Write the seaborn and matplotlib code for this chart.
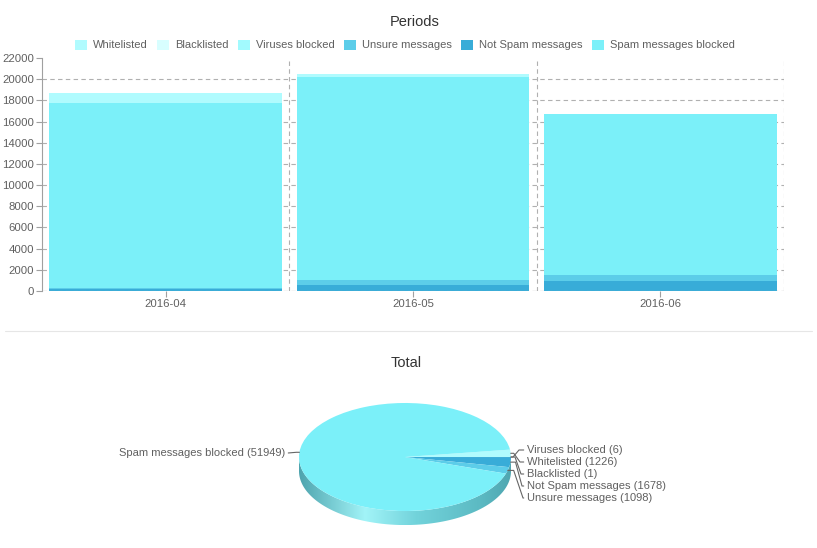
import numpy as np
import pandas as pd
import matplotlib
matplotlib.use('Agg')
import matplotlib.pyplot as plt
from matplotlib.patches import Patch, Polygon
from matplotlib.lines import Line2D
from matplotlib.colors import LinearSegmentedColormap
import seaborn as sns

sns.set_style('white')
plt.rcParams['font.family'] = ['Liberation Sans', 'DejaVu Sans']

# ---- data ----
months = ['2016-04', '2016-05', '2016-06']
whitelisted = [940, 280, 6]
blacklisted = [0, 1, 0]
viruses = [2, 3, 1]
unsure = [150, 420, 528]
not_spam = [155, 573, 950]
spam = [17480, 19220, 15249]

legend_names = ['Whitelisted', 'Blacklisted', 'Viruses blocked', 'Unsure messages',
                'Not Spam messages', 'Spam messages blocked']
total_names = ['Whitelisted', 'Blacklisted', 'Viruses blocked', 'Not Spam messages',
               'Unsure messages', 'Spam messages blocked']
total_values = [1226, 1, 6, 1678, 1098, 51949]

colors = {'Whitelisted': '#b0fbfe', 'Blacklisted': '#d8feff', 'Viruses blocked': '#a2fafe',
          'Unsure messages': '#5ccde9', 'Not Spam messages': '#38acd8',
          'Spam messages blocked': '#7bf0f9'}

TXT = '#606060'
W, H = 817, 548
fig = plt.figure(figsize=(W / 100, H / 100), dpi=100)

# ---- Periods: stacked bars ----
ax = fig.add_axes([42 / W, 1 - 291 / H, 742 / W, 233 / H])
stack = [('Not Spam messages', not_spam), ('Unsure messages', unsure),
         ('Spam messages blocked', spam), ('Viruses blocked', viruses),
         ('Blacklisted', blacklisted), ('Whitelisted', whitelisted)]
bottom = np.zeros(len(months))
for name, vals in stack:
    sns.barplot(x=months, y=vals, bottom=bottom.copy(), color=colors[name], saturation=1,
                width=0.94, errorbar=None, ax=ax, zorder=2, linewidth=0)
    bottom += np.array(vals, dtype=float)

ax.set_xlim(-0.5, 2.5)
ax.set_ylim(0, 22000)
ax.set_yticks(np.arange(0, 22001, 2000))
ax.set_xticks([0.5, 1.5, 2.5], minor=True)
ax.set_xlabel('')
ax.set_ylabel('')
grid_kw = dict(color='#b0b0b0', linestyle=(0, (4, 3)), linewidth=0.8)
ax.yaxis.grid(True, **grid_kw)
ax.xaxis.grid(True, which='minor', **grid_kw)
ax.set_axisbelow(True)
ax.get_ygridlines()[-1].set_visible(False)
for s in ['top', 'right', 'bottom']:
    ax.spines[s].set_visible(False)
ax.spines['left'].set_color('#a0a0a0')
ax.spines['left'].set_linewidth(0.8)
ax.tick_params(axis='both', which='major', labelsize=8.2, colors='#a0a0a0',
               labelcolor=TXT, length=4, width=0.8, left=True, bottom=True)
ax.tick_params(axis='y', pad=1.5)
ax.tick_params(axis='x', pad=2)
ax.tick_params(axis='x', which='minor', length=0)
ax.axhline(0, zorder=3, **grid_kw)

fig.text(415 / W, 1 - 22 / H, 'Periods', ha='center', va='center', fontsize=10.5, color='#333333')
handles = [Patch(facecolor=colors[n], edgecolor='none', label=n) for n in legend_names]
fig.legend(handles=handles, loc='center', bbox_to_anchor=(405 / W, 1 - 45 / H), ncol=6,
           frameon=False, fontsize=8.0, labelcolor=TXT, handlelength=1.05, handleheight=1.05,
           handletextpad=0.55, columnspacing=0.85)

# separator
fig.add_artist(Line2D([5 / W, 812 / W], [1 - 331 / H, 1 - 331 / H], color='#e6e6e6', linewidth=0.8))

# ---- Total: 3D-looking pie ----
fig.text(406 / W, 1 - 363 / H, 'Total', ha='center', va='center', fontsize=10.5, color='#333333')
pax = fig.add_axes([193 / W, 1 - 535 / H, 424 / W, 140 / H])
top_colors = [colors[n] for n in total_names]

start = total_values[0] / sum(total_values) * 360
depth = 0.26

# side of the disc with a horizontal shading
t = np.linspace(np.pi, 2 * np.pi, 200)
side = np.concatenate([np.column_stack([np.cos(t), np.sin(t) - depth]),
                       np.column_stack([np.cos(t[::-1]), np.sin(t[::-1])])])
side_patch = Polygon(side, closed=True, facecolor='none', edgecolor='none')
pax.add_patch(side_patch)
side_cmap = LinearSegmentedColormap.from_list(
    'side', [(0.0, '#4ea4ae'), (0.31, '#a2f4f8'), (0.55, '#72d3db'), (0.85, '#5cbac3'), (1.0, '#4fa6b0')])
grad = pax.imshow(np.linspace(0, 1, 256)[None, :], cmap=side_cmap, aspect='auto',
                  extent=(-1, 1, -1 - depth, 0), zorder=1)
grad.set_clip_path(side_patch)

wedges, _ = pax.pie(total_values, startangle=start, counterclock=False, colors=top_colors,
                    wedgeprops=dict(linewidth=0, zorder=2))
for w in wedges:
    w.set_zorder(2)
pax.set_aspect('auto')
pax.set_xlim(-2, 2)
pax.set_ylim(-1.444, 1.148)
pax.axis('off')

# label anchor (pixels) and elbow arm at the pie side (points)
label_pos = {'Viruses blocked': (527, 450, 2), 'Whitelisted': (527, 462, 3),
             'Blacklisted': (527, 474, 4), 'Not Spam messages': (527, 486, 5),
             'Unsure messages': (527, 498, 6), 'Spam messages blocked': (285, 453, 3)}
for w, name, val in zip(wedges, total_names, total_values):
    mid = np.deg2rad((w.theta1 + w.theta2) / 2)
    px, py, arm = label_pos[name]
    right = name != 'Spam messages blocked'
    if right:
        cs = 'arc,angleA=180,armA=%.1f,angleB=0,armB=%.1f,rad=0' % (10 - arm, arm)
    else:
        cs = 'arc,angleA=0,armA=3,angleB=180,armB=3,rad=0'
    pax.annotate('%s (%d)' % (name, val), xy=(np.cos(mid), np.sin(mid)),
                 xytext=(px, H - py), textcoords='figure pixels',
                 ha='left' if right else 'right', va='center', fontsize=8.0, color=TXT,
                 arrowprops=dict(arrowstyle='-', color='#666666', lw=0.8, shrinkA=0, shrinkB=0,
                                 relpos=(0, 0.5) if right else (1, 0.5),
                                 connectionstyle=cs))

fig.savefig('out.png', dpi=100)
